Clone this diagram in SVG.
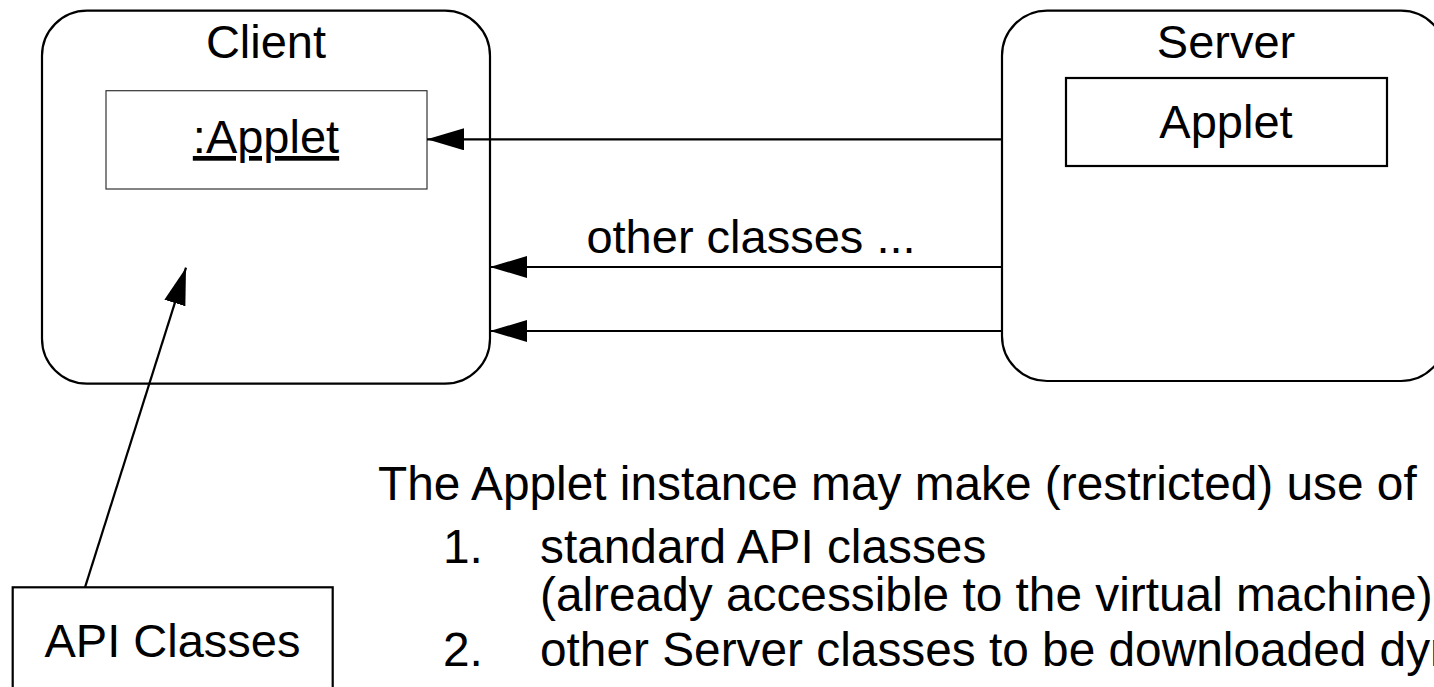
<svg xmlns="http://www.w3.org/2000/svg" width="1434" height="687" viewBox="0 0 1434 687">
  <style>
    text { font-family: "Liberation Sans", Arial, sans-serif; font-size: 47px; fill: #000; }
    .mid { text-anchor: middle; }
    .frame { fill: #fff; stroke: #000; stroke-width: 2.2; }
    .obj { fill: #fff; stroke: #333; stroke-width: 1.2; }
    .cls { fill: #fff; stroke: #000; stroke-width: 2.2; }
    .conn { fill: none; stroke: #000; stroke-width: 2.2; }
    .note { font-size: 47.8px; }
  </style>
  <defs>
    <marker id="arrow" markerUnits="userSpaceOnUse" markerWidth="38" markerHeight="22" refX="37" refY="11" orient="auto">
      <path d="M0,0 L37,11 L0,22 Z" fill="#000"/>
    </marker>
  </defs>
  <rect x="0" y="0" width="1434" height="687" fill="#fff"/>

  <g id="client">
    <rect class="frame" x="42" y="10.7" width="448" height="373" rx="45" ry="45"/>
    <text class="mid" x="266" y="58">Client</text>
  </g>
  <g id="applet-instance">
    <rect class="obj" x="106" y="90.7" width="321" height="98.3"/>
    <text class="mid" x="266" y="153" text-decoration="underline">:Applet</text>
  </g>
  <g id="server">
    <rect class="frame" x="1002" y="10.7" width="444" height="370.3" rx="45" ry="45"/>
    <text class="mid" x="1226" y="58">Server</text>
  </g>
  <g id="applet-class">
    <rect class="cls" x="1066" y="78" width="321" height="88"/>
    <text class="mid" x="1226" y="138">Applet</text>
  </g>
  <g id="api-classes">
    <rect class="cls" x="12.7" y="587.3" width="320" height="120"/>
    <text class="mid" x="172.5" y="656.5">API Classes</text>
  </g>

  <g id="connectors">
    <line class="conn" x1="1002" y1="139.3" x2="427" y2="139.3" marker-end="url(#arrow)"/>
    <line class="conn" x1="1002" y1="267" x2="490" y2="267" marker-end="url(#arrow)"/>
    <line class="conn" x1="1002" y1="331" x2="490" y2="331" marker-end="url(#arrow)"/>
    <line class="conn" x1="85" y1="587.3" x2="186" y2="267.7" marker-end="url(#arrow)"/>
    <text class="mid" x="751" y="253">other classes ...</text>
  </g>

  <g id="description">
    <text class="note" x="378" y="500">The Applet instance may make (restricted) use of</text>
    <text class="note" x="443" y="563">1.</text>
    <text class="note" x="540" y="563">standard API classes</text>
    <text class="note" x="540" y="611">(already accessible to the virtual machine)</text>
    <text class="note" x="443" y="666">2.</text>
    <text class="note" x="540" y="666">other Server classes to be downloaded dyn</text>
  </g>
</svg>
